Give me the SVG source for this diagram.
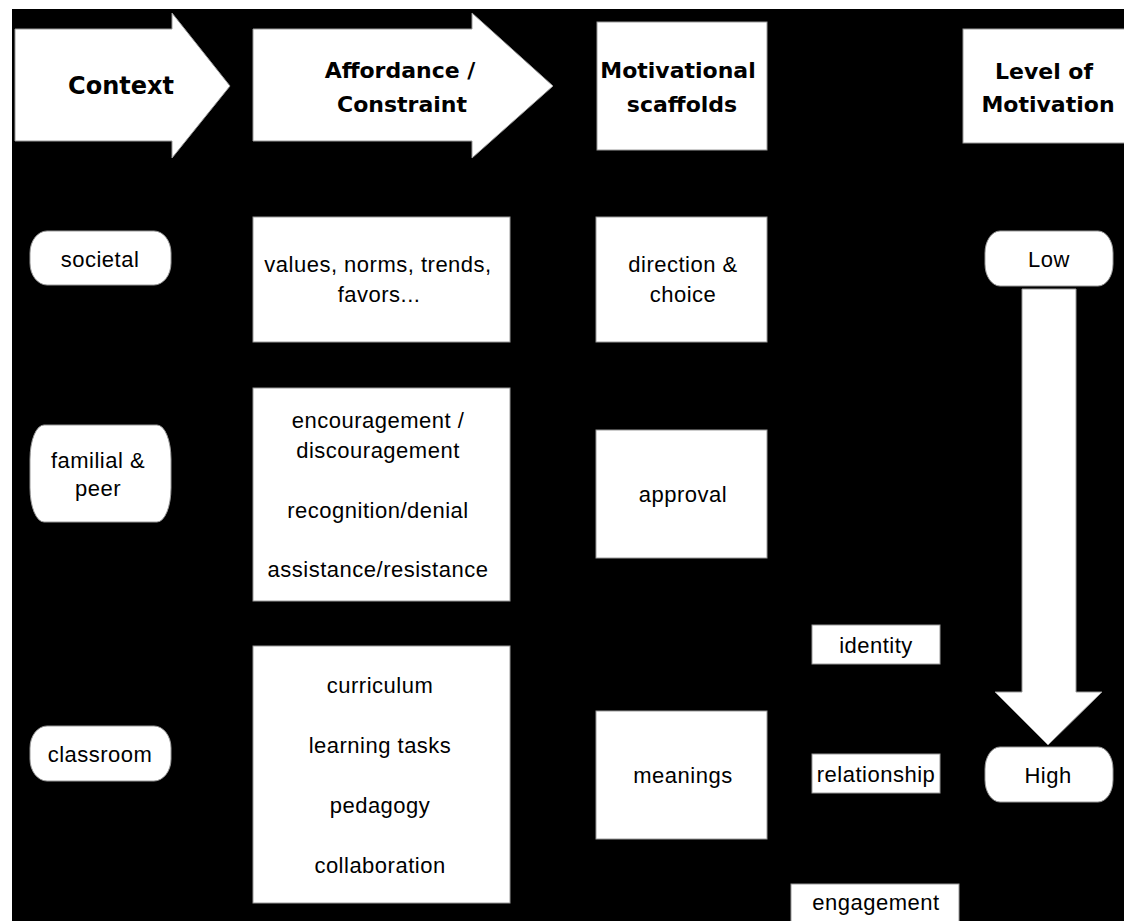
<svg xmlns="http://www.w3.org/2000/svg" width="1124" height="921" viewBox="0 0 1124 921">
<style>
.bg{fill:#000}
.shape{fill:#fff;stroke:#999;stroke-width:1}
.h{font-family:"DejaVu Sans",sans-serif;font-weight:bold;font-size:22px;fill:#000;text-anchor:middle}
.t{font-family:"Liberation Sans",Arial,sans-serif;font-size:22px;letter-spacing:0.5px;fill:#000;text-anchor:middle}
</style>
<rect x="0" y="0" width="1124" height="921" fill="#fff"/>
<rect class="bg" x="12" y="9" width="1112" height="912"/>

<g id="context">
<polygon class="shape" points="15,29 172,29 172,13 230,86 172,158 172,141 15,141"/>
<text class="h" x="121" y="94" style="font-size:24px">Context</text>
</g>
<g id="affordance">
<polygon class="shape" points="253,29 472,29 472,13 553,86 472,158 472,141 253,141"/>
<text class="h" x="400" y="78">Affordance /</text>
<text class="h" x="402" y="112">Constraint</text>
</g>
<g id="scaffolds-header">
<rect class="shape" x="597" y="22" width="170" height="128"/>
<text class="h" x="678" y="78">Motivational</text>
<text class="h" x="682" y="112">scaffolds</text>
</g>
<g id="level-header">
<rect class="shape" x="963" y="29" width="162" height="114"/>
<text class="h" x="1044" y="79">Level of</text>
<text class="h" x="1048" y="112">Motivation</text>
</g>

<g id="societal">
<rect class="shape" x="30" y="231" width="141" height="54" rx="17" ry="22"/>
<text class="t" x="100" y="267">societal</text>
</g>
<g id="familial">
<rect class="shape" x="30" y="425" width="141" height="97" rx="14" ry="34"/>
<text class="t" x="98" y="468">familial &amp;</text>
<text class="t" x="98" y="496">peer</text>
</g>
<g id="classroom">
<rect class="shape" x="30" y="726" width="141" height="55" rx="17" ry="22"/>
<text class="t" x="100" y="762">classroom</text>
</g>

<g id="values">
<rect class="shape" x="253" y="217" width="257" height="125"/>
<text class="t" x="378" y="272">values, norms, trends,</text>
<text class="t" x="379" y="302">favors...</text>
</g>
<g id="encouragement">
<rect class="shape" x="253" y="388" width="257" height="213"/>
<text class="t" x="378" y="428">encouragement /</text>
<text class="t" x="378" y="458">discouragement</text>
<text class="t" x="378" y="518">recognition/denial</text>
<text class="t" x="378" y="577">assistance/resistance</text>
</g>
<g id="classroom-affordances">
<rect class="shape" x="253" y="646" width="257" height="257"/>
<text class="t" x="380" y="693">curriculum</text>
<text class="t" x="380" y="753">learning tasks</text>
<text class="t" x="380" y="813">pedagogy</text>
<text class="t" x="380" y="873">collaboration</text>
</g>

<g id="direction">
<rect class="shape" x="596" y="217" width="171" height="125"/>
<text class="t" x="683" y="272">direction &amp;</text>
<text class="t" x="683" y="302">choice</text>
</g>
<g id="approval">
<rect class="shape" x="596" y="430" width="171" height="128"/>
<text class="t" x="683" y="502">approval</text>
</g>
<g id="meanings">
<rect class="shape" x="596" y="711" width="171" height="128"/>
<text class="t" x="683" y="783">meanings</text>
</g>

<g id="identity">
<rect class="shape" x="812" y="625" width="128" height="39"/>
<text class="t" x="876" y="653">identity</text>
</g>
<g id="relationship">
<rect class="shape" x="812" y="754" width="128" height="39"/>
<text class="t" x="876" y="782">relationship</text>
</g>
<g id="engagement">
<rect class="shape" x="791" y="884" width="168" height="40"/>
<text class="t" x="876" y="910">engagement</text>
</g>

<g id="low">
<rect class="shape" x="985" y="231" width="128" height="55" rx="15" ry="22"/>
<text class="t" x="1049" y="267">Low</text>
</g>
<g id="high">
<rect class="shape" x="985" y="747" width="128" height="55" rx="15" ry="22"/>
<text class="t" x="1048" y="783">High</text>
</g>

<g id="connectors">
<polygon class="shape" points="1022,289 1076,289 1076,692 1102,692 1048,745 995,692 1022,692"/>
</g>
</svg>
